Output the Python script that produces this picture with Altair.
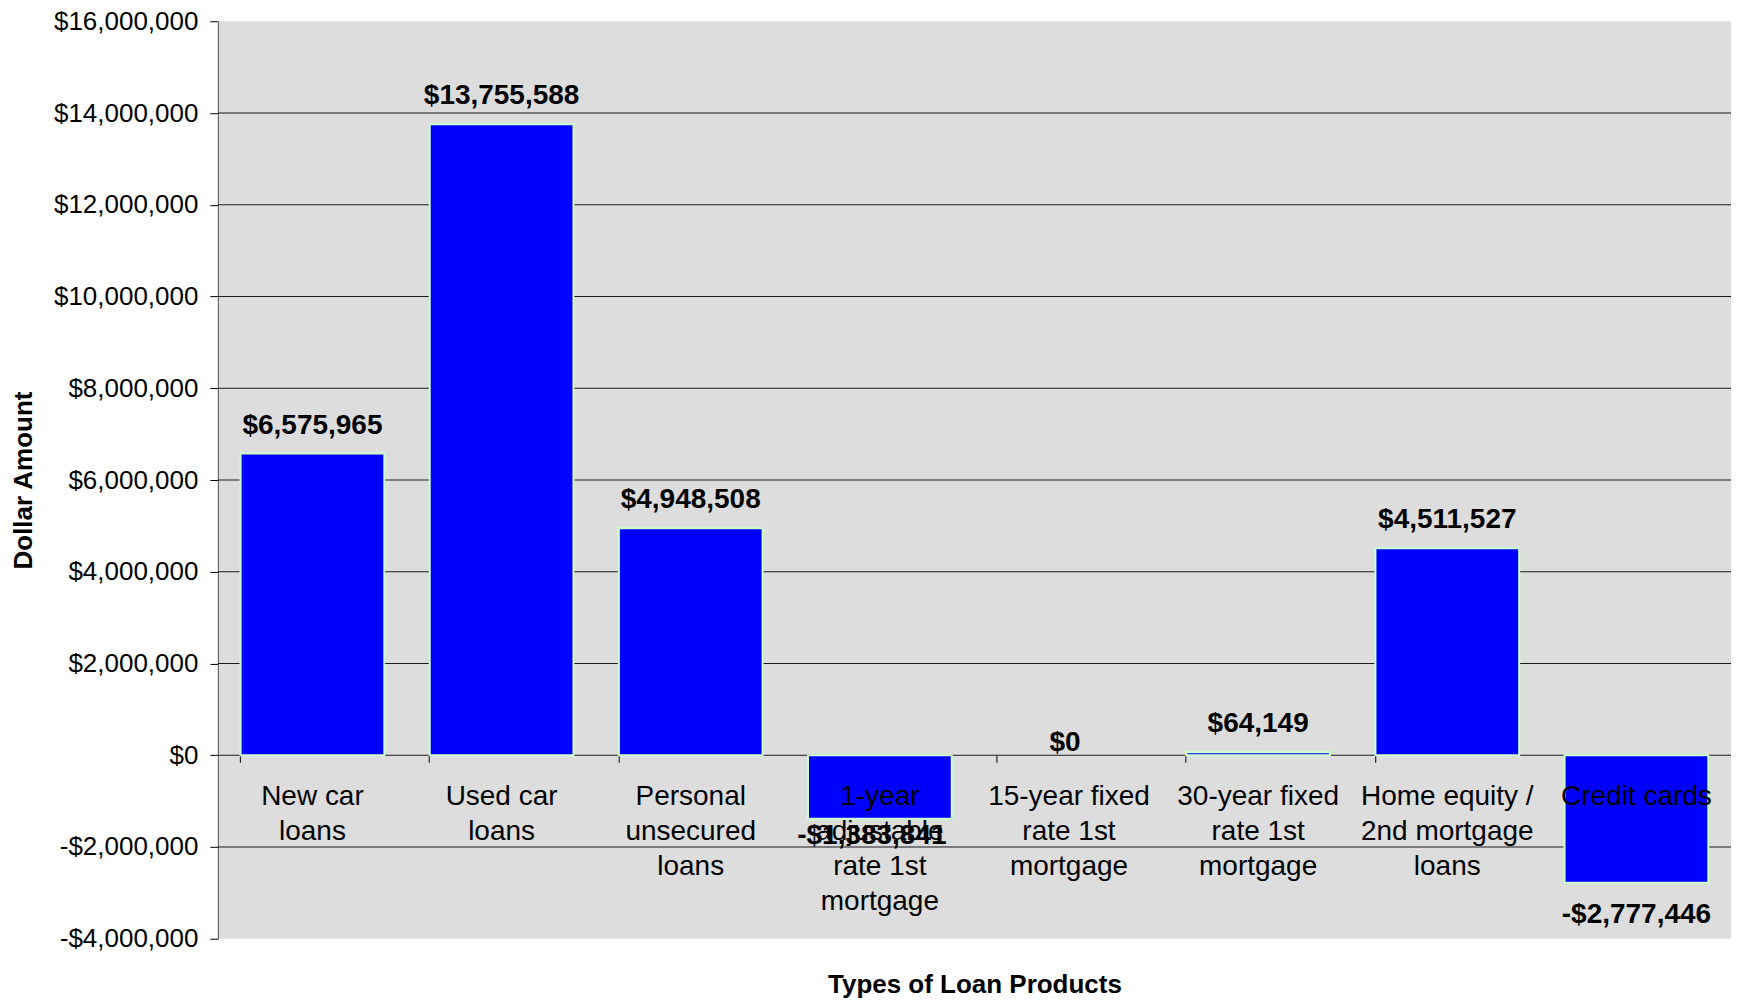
import altair as alt
import pandas as pd

categories = [
    "New car loans",
    "Used car loans",
    "Personal unsecured loans",
    "1-year adjustable rate 1st mortgage",
    "15-year fixed rate 1st mortgage",
    "30-year fixed rate 1st mortgage",
    "Home equity / 2nd mortgage loans",
    "Credit cards",
]
label_lines = [
    ["New car", "loans"],
    ["Used car", "loans"],
    ["Personal", "unsecured", "loans"],
    ["1-year", "adjustable", "rate 1st", "mortgage"],
    ["15-year fixed", "rate 1st", "mortgage"],
    ["30-year fixed", "rate 1st", "mortgage"],
    ["Home equity /", "2nd mortgage", "loans"],
    ["Credit cards"],
]
values = [6575965, 13755588, 4948508, -1383841, 0, 64149, 4511527, -2777446]
y_ticks = [-4000000, -2000000, 0, 2000000, 4000000, 6000000, 8000000,
           10000000, 12000000, 14000000, 16000000]
grid_values = [-2000000, 0, 2000000, 4000000, 6000000, 8000000,
               10000000, 12000000, 14000000]

df = pd.DataFrame({
    "category": categories,
    "value": values,
    "catlabel": ["\n".join(l) for l in label_lines],
})
grid_df = pd.DataFrame({"g": grid_values})

FONT = "Liberation Sans, Arial, sans-serif"
fmt_expr = "(datum.value < 0 ? '-' : '') + '$' + format(abs(datum.value), ',.0f')"

x_enc = alt.X(
    "category:N",
    sort=categories,
    scale=alt.Scale(paddingInner=0.24, paddingOuter=0.12),
    axis=alt.Axis(
        orient="bottom",
        offset=-183.6,
        labels=False,
        domain=False,
        ticks=True,
        tickSize=7,
        tickColor="black",
        tickWidth=1,
        bandPosition=0,
        grid=False,
        title="Types of Loan Products",
        titleFont=FONT,
        titleFontSize=26,
        titleFontWeight="bold",
        titleColor="black",
        titleBaseline="alphabetic",
        titleY=237.6,
    ),
)
y_scale = alt.Scale(domain=[-4000000, 16000000], nice=False, zero=False)
y_enc = alt.Y(
    "value:Q",
    scale=y_scale,
    axis=alt.Axis(
        values=y_ticks,
        labelExpr=fmt_expr,
        labelFont=FONT,
        labelFontSize=26,
        labelColor="black",
        labelPadding=12,
        tickSize=8,
        tickColor="black",
        domainColor="#555555",
        grid=False,
        title="Dollar Amount",
        titleFont=FONT,
        titleFontSize=26,
        titleFontWeight="bold",
        titleColor="black",
        titleBaseline="middle",
        titleX=-194,
    ),
)

grid = alt.Chart(grid_df).mark_rule(color="#1a1a1a", strokeWidth=1).encode(
    y=alt.Y("g:Q", scale=y_scale)
)

bars = alt.Chart(df).mark_bar(
    color="#0000FF", stroke="#CCFFCC", strokeWidth=2
).encode(
    x=x_enc,
    y=y_enc,
    y2=alt.datum(0),
    strokeOpacity=alt.condition("datum.value == 0", alt.value(0), alt.value(1)),
)

cat_text = alt.Chart(df).mark_text(
    font=FONT, fontSize=28, lineBreak="\n", lineHeight=35,
    baseline="alphabetic", align="center", dy=50, color="black"
).encode(
    x=alt.X("category:N", sort=categories),
    y=alt.datum(0),
    text="catlabel:N",
)

val_base = alt.Chart(df).transform_calculate(lbl=fmt_expr)

pos_text = val_base.transform_filter("datum.value > 0").mark_text(
    font=FONT, fontSize=28, fontWeight="bold", baseline="alphabetic",
    align="center", dy=-20, color="black"
).encode(x=alt.X("category:N", sort=categories), y=alt.Y("value:Q"), text="lbl:N")

zero_text = val_base.transform_filter("datum.value == 0").mark_text(
    font=FONT, fontSize=28, fontWeight="bold", baseline="alphabetic",
    align="center", dy=-4, dx=-4, color="black"
).encode(x=alt.X("category:N", sort=categories), y=alt.Y("value:Q"), text="lbl:N")

neg_text_a = val_base.transform_filter(
    "datum.value < 0 && datum.category != 'Credit cards'"
).mark_text(
    font=FONT, fontSize=28, fontWeight="bold", baseline="alphabetic",
    align="center", dy=25, dx=-8, color="black"
).encode(x=alt.X("category:N", sort=categories), y=alt.Y("value:Q"), text="lbl:N")

neg_text_b = val_base.transform_filter(
    "datum.value < 0 && datum.category == 'Credit cards'"
).mark_text(
    font=FONT, fontSize=28, fontWeight="bold", baseline="alphabetic",
    align="center", dy=40, color="black"
).encode(x=alt.X("category:N", sort=categories), y=alt.Y("value:Q"), text="lbl:N")

chart = alt.layer(
    grid, bars, cat_text, pos_text, zero_text, neg_text_a, neg_text_b
).properties(
    width=1514,
    height=918,
    autosize=alt.AutoSizeParams(type="none"),
    padding={"left": 210, "top": 13, "right": 0, "bottom": 62},
    background="white",
).configure_view(
    fill="#DDDDDD", strokeWidth=0
)

chart.save("out.html", embed_options={"renderer": "svg", "actions": False})
